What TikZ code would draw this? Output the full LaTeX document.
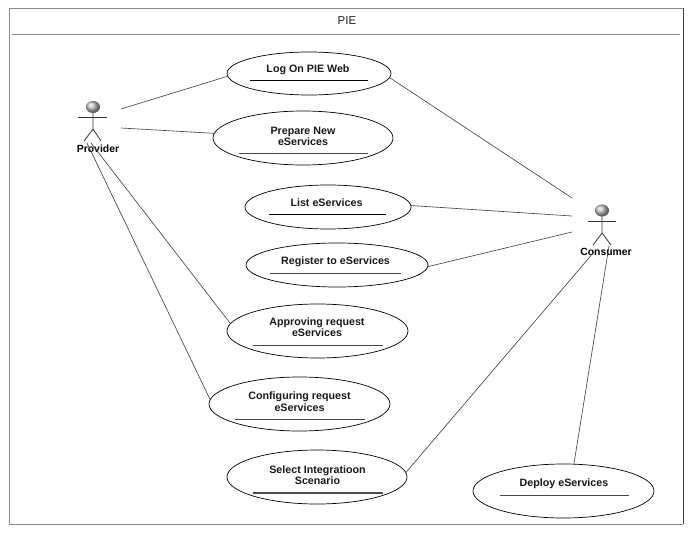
\documentclass[tikz,border=0pt]{standalone}
\usepackage{fontspec}
\setmainfont{Liberation Sans}
\usetikzlibrary{shapes.geometric}
\tikzset{
  usecase/.style={draw=black,line width=0.7pt,ellipse,inner sep=0pt,minimum width=#1},
  ucheight/.style={minimum height=#1},
  uctext/.style={font=\fontsize{10.7}{11.4}\selectfont\bfseries,align=center,inner sep=0pt,text=black!90,yshift=-0.6pt},
  actorname/.style={font=\fontsize{10.4}{12}\selectfont\bfseries,inner sep=0pt,text=black},
  limb/.style={draw=black!80,line width=0.8pt},
  assoc/.style={draw=black!72,line width=0.65pt},
  ucrule/.style={draw=black!72,line width=0.7pt},
  ucrulethick/.style={draw=black,line width=1pt},
  frameA/.style={draw=black!45,line width=0.9pt},
  frameB/.style={draw=black!75,line width=0.9pt},
  headball/.style={ellipse,inner sep=0pt,minimum width=14pt,minimum height=12pt,ball color=black!25,draw=none}
}
\begin{document}
\begin{tikzpicture}[x=1pt,y=-1pt]
\useasboundingbox[fill=white] (0,0) rectangle (692,532);
% frame
\draw[frameA] (9,524) -- (9,8) -- (683,8);
\draw[frameB] (683,8) -- (683,524);
\draw[frameA] (9,524) -- (683,524);
\draw[frameA] (12,34.5) -- (680,34.5);
\node[inner sep=0pt,font=\fontsize{11.5}{13}\selectfont,text=black!85] (title) at (347,21) {PIE};
% use cases
\node[usecase=164pt,ucheight=43pt] (logon) at (309,73.5) {};
\node[usecase=180pt,ucheight=54pt] (prepare) at (303,138) {};
\node[usecase=166pt,ucheight=44pt] (list) at (328,207) {};
\node[usecase=182pt,ucheight=44pt] (register) at (337,265) {};
\node[usecase=181pt,ucheight=54pt] (approve) at (317.5,331) {};
\node[usecase=181pt,ucheight=54pt] (config) at (299.5,404) {};
\node[usecase=180pt,ucheight=54pt] (select) at (317,477) {};
\node[usecase=181pt,ucheight=54pt] (deploy) at (563.5,491) {};
% labels
\node[uctext] (logontext) at (308,69) {Log On PIE Web};
\node[uctext] (preparetext) at (303,135.5) {Prepare New\\eServices};
\node[uctext] (listtext) at (326.5,202) {List eServices};
\node[uctext] (registertext) at (335.5,261) {Register to eServices};
\node[uctext] (approvetext) at (317,326.5) {Approving request\\eServices};
\node[uctext] (configtext) at (299.5,401) {Configuring request\\eServices};
\node[uctext] (selecttext) at (317.5,474.5) {Select Integratioon\\Scenario};
\node[uctext] (deploytext) at (564,483) {Deploy eServices};
% rules inside ellipses
\draw[ucrulethick] (250,81) -- (368,81);
\draw[ucrule] (239,153) -- (368,153);
\draw[ucrulethick] (269,214) -- (386,214);
\draw[ucrule] (270,273) -- (401,273);
\draw[ucrule] (253,345) -- (383,345);
\draw[ucrule] (235,419) -- (365,419);
\draw[ucrulethick,line width=1.3pt,draw=black!70] (253,493) -- (383,493);
\draw[ucrule] (500,495) -- (629,495);
% provider actor
\node[headball] (provhead) at (93,107) {};
\coordinate (provneck) at (93,113);
\coordinate (provcrotch) at (93,129);
\coordinate (provarmL) at (78,117);
\coordinate (provarmR) at (107,117);
\coordinate (provlegL) at (84,141);
\coordinate (provlegR) at (101,141);
\draw[limb] (provneck) -- (provcrotch) -- (provlegL);
\draw[limb] (provcrotch) -- (provlegR);
\draw[limb] (provarmL) -- (provarmR);
\node[actorname] (provider) at (98,149) {Provider};
% consumer actor
\node[headball] (conshead) at (602,210.5) {};
\coordinate (consneck) at (602,216);
\coordinate (conscrotch) at (602,233);
\coordinate (consarmL) at (588,221);
\coordinate (consarmR) at (616,221);
\coordinate (conslegL) at (593,245);
\coordinate (conslegR) at (611,245);
\draw[limb] (consneck) -- (conscrotch) -- (conslegL);
\draw[limb] (conscrotch) -- (conslegR);
\draw[limb] (consarmL) -- (consarmR);
\node[actorname] (consumer) at (606,252) {Consumer};
% connector free ends
\coordinate (pa) at (121,109);
\coordinate (pb) at (121,128);
\coordinate (pc) at (91,143);
\coordinate (pd) at (87,143);
\coordinate (ca) at (572,198);
\coordinate (cb) at (572,216);
\coordinate (cc) at (572,232);
\coordinate (cd) at (594,252);
\coordinate (ce) at (609,246);
% connectors
\draw[assoc] (pa) -- (logon.182);
\draw[assoc] (pb) -- (prepare.177);
\draw[assoc] (pc) -- (approve.175.5);
\draw[assoc] (pd) -- (config.177.5);
\draw[assoc] (logon.-3) -- (ca);
\draw[assoc] (list.1.4) -- (cb);
\draw[assoc] (register.-1) -- (cc);
\draw[assoc] (select.3) -- (cd);
\draw[assoc] (deploy.69) -- (ce);
\end{tikzpicture}
\end{document}
